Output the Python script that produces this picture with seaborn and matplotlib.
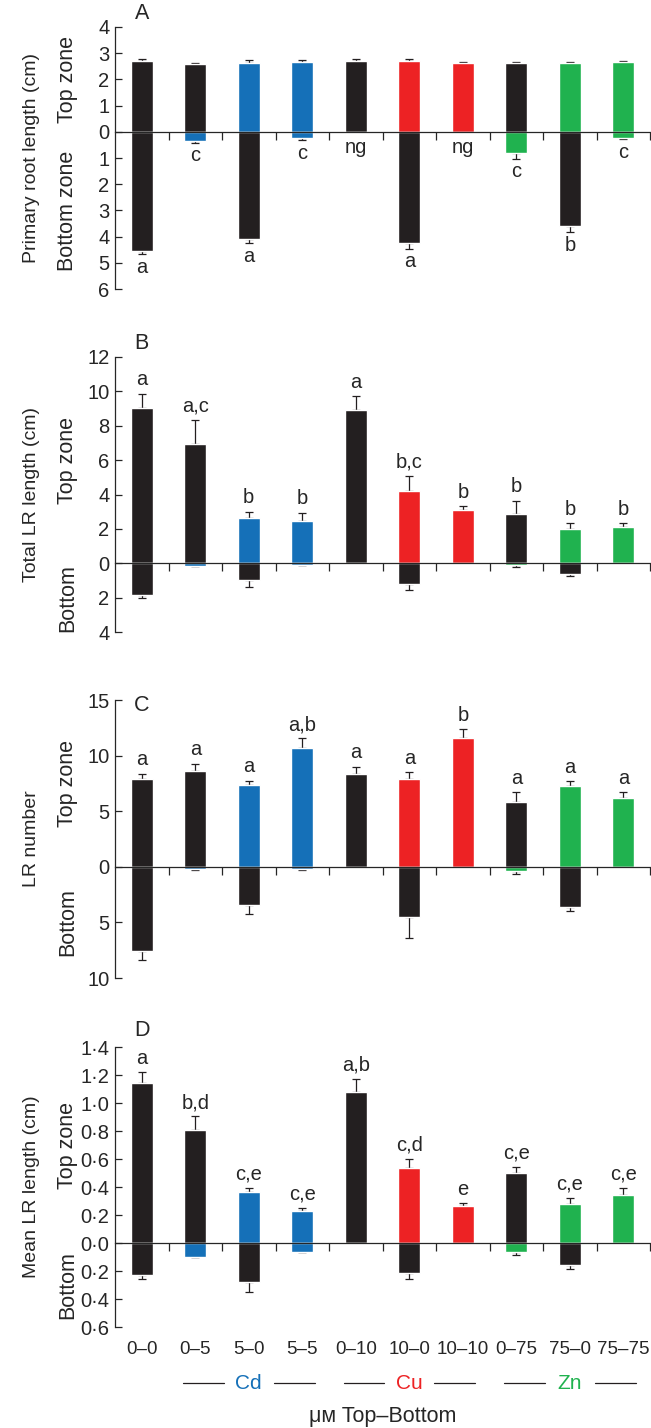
import numpy as np
import pandas as pd
import matplotlib
matplotlib.use("Agg")
import matplotlib.pyplot as plt
import matplotlib.transforms as mtransforms
import seaborn as sns

# treatments (uM, top zone - bottom zone)
metals = [None, "Cd", "Cd", "Cd", "Cu", "Cu", "Cu", "Zn", "Zn", "Zn"]
top_conc = [0, 0, 5, 5, 0, 10, 10, 0, 75, 75]
bottom_conc = [0, 5, 0, 5, 10, 0, 10, 75, 0, 75]
labels = [f"{t}\u2013{b}" for t, b in zip(top_conc, bottom_conc)]

# A: primary root length (cm)
a_top = [2.72, 2.57, 2.61, 2.65, 2.72, 2.72, 2.61, 2.61, 2.61, 2.65]
a_top_err = [0.05, 0.05, 0.12, 0.08, 0.05, 0.05, 0.07, 0.05, 0.05, 0.07]
a_bottom = [4.55, 0.36, 4.09, 0.23, 0, 4.24, 0, 0.79, 3.60, 0.23]
a_bottom_err = [0.12, 0.05, 0.16, 0.09, 0, 0.22, 0, 0.23, 0.24, 0.05]
a_letters = ["a", "c", "a", "c", "ng", "a", "ng", "c", "b", "c"]

# B: total LR length (cm)
b_top = [9.03, 6.94, 2.63, 2.44, 8.92, 4.20, 3.08, 2.86, 1.99, 2.09]
b_top_err = [0.83, 1.42, 0.37, 0.50, 0.79, 0.89, 0.25, 0.78, 0.33, 0.23]
b_bottom = [1.82, 0.13, 0.98, 0.08, 0, 1.23, 0, 0.12, 0.61, 0]
b_bottom_err = [0.18, 0.02, 0.40, 0.01, 0, 0.35, 0, 0.10, 0.13, 0]
b_letters = ["a", "a,c", "b", "b", "a", "b,c", "b", "b", "b", "b"]

# C: LR number
c_top = [7.86, 8.64, 7.32, 10.71, 8.34, 7.86, 11.55, 5.82, 7.23, 6.21]
c_top_err = [0.51, 0.63, 0.42, 0.84, 0.66, 0.63, 0.81, 0.90, 0.48, 0.51]
c_bottom = [7.55, 0.18, 3.47, 0.18, 0, 4.55, 0, 0.36, 3.60, 0]
c_bottom_err = [0.80, 0.12, 0.81, 0.12, 0, 1.85, 0, 0.30, 0.40, 0]
c_letters = ["a", "a", "a", "a,b", "a", "a", "b", "a", "a", "a"]

# D: mean LR length (cm)
d_top = [1.143, 0.806, 0.364, 0.227, 1.077, 0.538, 0.266, 0.498, 0.278, 0.344]
d_top_err = [0.077, 0.098, 0.031, 0.022, 0.098, 0.065, 0.021, 0.047, 0.047, 0.048]
d_bottom = [0.231, 0.098, 0.280, 0.062, 0, 0.217, 0, 0.067, 0.155, 0]
d_bottom_err = [0.026, 0.004, 0.070, 0.003, 0, 0.040, 0, 0.016, 0.033, 0]
d_letters = ["a", "b,d", "c,e", "c,e", "a,b", "c,d", "e", "c,e", "c,e", "c,e"]

metal_colors = {"Cd": "#1570b8", "Cu": "#ed2224", "Zn": "#20b24f"}
black = "#231f20"

sns.set_style("ticks")
plt.rcParams["font.family"] = ["Liberation Sans", "DejaVu Sans"]
plt.rcParams["font.size"] = 14
plt.rcParams["axes.linewidth"] = 0.9


def zone_colors(conc):
    return [metal_colors[m] if c > 0 else black for m, c in zip(metals, conc)]


def fmt_dot(v):
    return f"{abs(v):.1f}".replace(".", "\u00b7")


def draw_panel(ax, letter, top, top_err, bottom, bottom_err, letters,
               ymin, ymax, step, ylabel, bottom_name, letters_below,
               decimal=False, letter_dy=14):
    x = np.arange(len(labels))
    df = pd.DataFrame({"trt": labels, "top": top, "bottom": -np.array(bottom)})
    sns.barplot(data=df, x="trt", y="top", hue="trt",
                palette=dict(zip(labels, zone_colors(top_conc))),
                width=0.41, saturation=1, legend=False, ax=ax, zorder=2)
    sns.barplot(data=df, x="trt", y="bottom", hue="trt",
                palette=dict(zip(labels, zone_colors(bottom_conc))),
                width=0.41, saturation=1, legend=False, ax=ax, zorder=2)

    top = np.array(top)
    top_err = np.array(top_err)
    ax.errorbar(x, top, yerr=[np.zeros_like(top), top_err], fmt="none",
                ecolor=black, elinewidth=0.9, capsize=3, capthick=0.9, zorder=1)
    bottom = np.array(bottom)
    bottom_err = np.array(bottom_err)
    m = bottom > 0
    ax.errorbar(x[m], -bottom[m], yerr=[bottom_err[m], np.zeros(m.sum())],
                fmt="none", ecolor=black, elinewidth=0.9, capsize=3,
                capthick=0.9, zorder=1)

    # significance letters
    for i, lab in enumerate(letters):
        if letters_below:
            if lab == "ng":
                y = 0
                dy = -15
            else:
                y = -(bottom[i] + bottom_err[i])
                dy = -13.5
        else:
            y = top[i] + top_err[i]
            dy = 6
        ax.annotate(lab, (i, y), xytext=(0, dy), textcoords="offset points",
                    ha="center", va="baseline", fontsize=14.5)

    ax.set_xlim(-0.5, 9.5)
    ax.set_ylim(ymin, ymax)
    ticks = np.arange(ymin, ymax + step / 2, step)
    ax.set_yticks(ticks)
    if decimal:
        ax.set_yticklabels([fmt_dot(t) for t in ticks])
    else:
        ax.set_yticklabels([f"{abs(t):g}" for t in ticks])
    ax.tick_params(axis="y", direction="in", length=5, width=0.9, pad=4,
                   labelsize=14.5)

    ax.spines["top"].set_visible(False)
    ax.spines["right"].set_visible(False)
    ax.spines["left"].set_bounds(ymin, ymax)
    ax.spines["bottom"].set_position(("data", 0))
    ax.set_xticks(x + 0.5)
    ax.tick_params(axis="x", direction="out", length=6, width=0.9,
                   labelbottom=False)
    ax.set_xlabel("")
    ax.set_ylabel("")

    tr = mtransforms.blended_transform_factory(ax.transAxes, ax.transData)
    ax.text(-0.157, (ymin + ymax) / 2, ylabel, transform=tr, rotation=90,
            ha="center", va="center", fontsize=14)
    ax.text(-0.088, ymax / 2, "Top zone", transform=tr, rotation=90,
            ha="center", va="center", fontsize=15.5)
    ax.text(-0.088, ymin / 2, bottom_name, transform=tr, rotation=90,
            ha="center", va="center", fontsize=15.5)

    ax.annotate(letter, (0, 1), xycoords=("data", "axes fraction"),
                xytext=(0, letter_dy), textcoords="offset points",
                ha="center", va="center", fontsize=15.5)


fig = plt.figure(figsize=(6.51, 14.28), dpi=100)
ax_a = fig.add_axes([0.1767, 0.7976, 0.822, 0.1835])
ax_b = fig.add_axes([0.1767, 0.5574, 0.822, 0.1926])
ax_c = fig.add_axes([0.1767, 0.3151, 0.822, 0.1947])
ax_d = fig.add_axes([0.1767, 0.0707, 0.822, 0.1961])

draw_panel(ax_a, "A", a_top, a_top_err, a_bottom, a_bottom_err, a_letters,
           -6, 4, 1, "Primary root length (cm)", "Bottom zone", True,
           letter_dy=10)
draw_panel(ax_b, "B", b_top, b_top_err, b_bottom, b_bottom_err, b_letters,
           -4, 12, 2, "Total LR length (cm)", "Bottom", False, letter_dy=10)
draw_panel(ax_c, "C", c_top, c_top_err, c_bottom, c_bottom_err, c_letters,
           -10, 15, 5, "LR number", "Bottom", False, letter_dy=-4)
draw_panel(ax_d, "D", d_top, d_top_err, d_bottom, d_bottom_err, d_letters,
           -0.6, 1.4, 0.2, "Mean LR length (cm)", "Bottom", False,
           decimal=True, letter_dy=12)

# treatment labels under the last panel
for i, lab in enumerate(labels):
    ax_d.annotate(lab, (i, 0), xycoords=("data", "axes fraction"),
                  xytext=(0, -16.5), textcoords="offset points",
                  ha="center", va="center", fontsize=13.5)

trd = mtransforms.blended_transform_factory(ax_d.transData, ax_d.transAxes)
for name, center in [("Cd", 2), ("Cu", 5), ("Zn", 8)]:
    ax_d.text(center, -0.2, name, transform=trd, ha="center", va="center",
              color=metal_colors[name], fontsize=15)
    for side in (-1, 1):
        mid = center + side * 0.85
        ax_d.plot([mid - 0.38, mid + 0.38], [-0.2, -0.2], transform=trd,
                  color=black, lw=0.9, clip_on=False)
ax_d.text(0.5, -0.321, "\u03bc\u1d0d Top\u2013Bottom", transform=ax_d.transAxes,
          ha="center", va="center", fontsize=15.5)

fig.savefig("out.png", dpi=100)
